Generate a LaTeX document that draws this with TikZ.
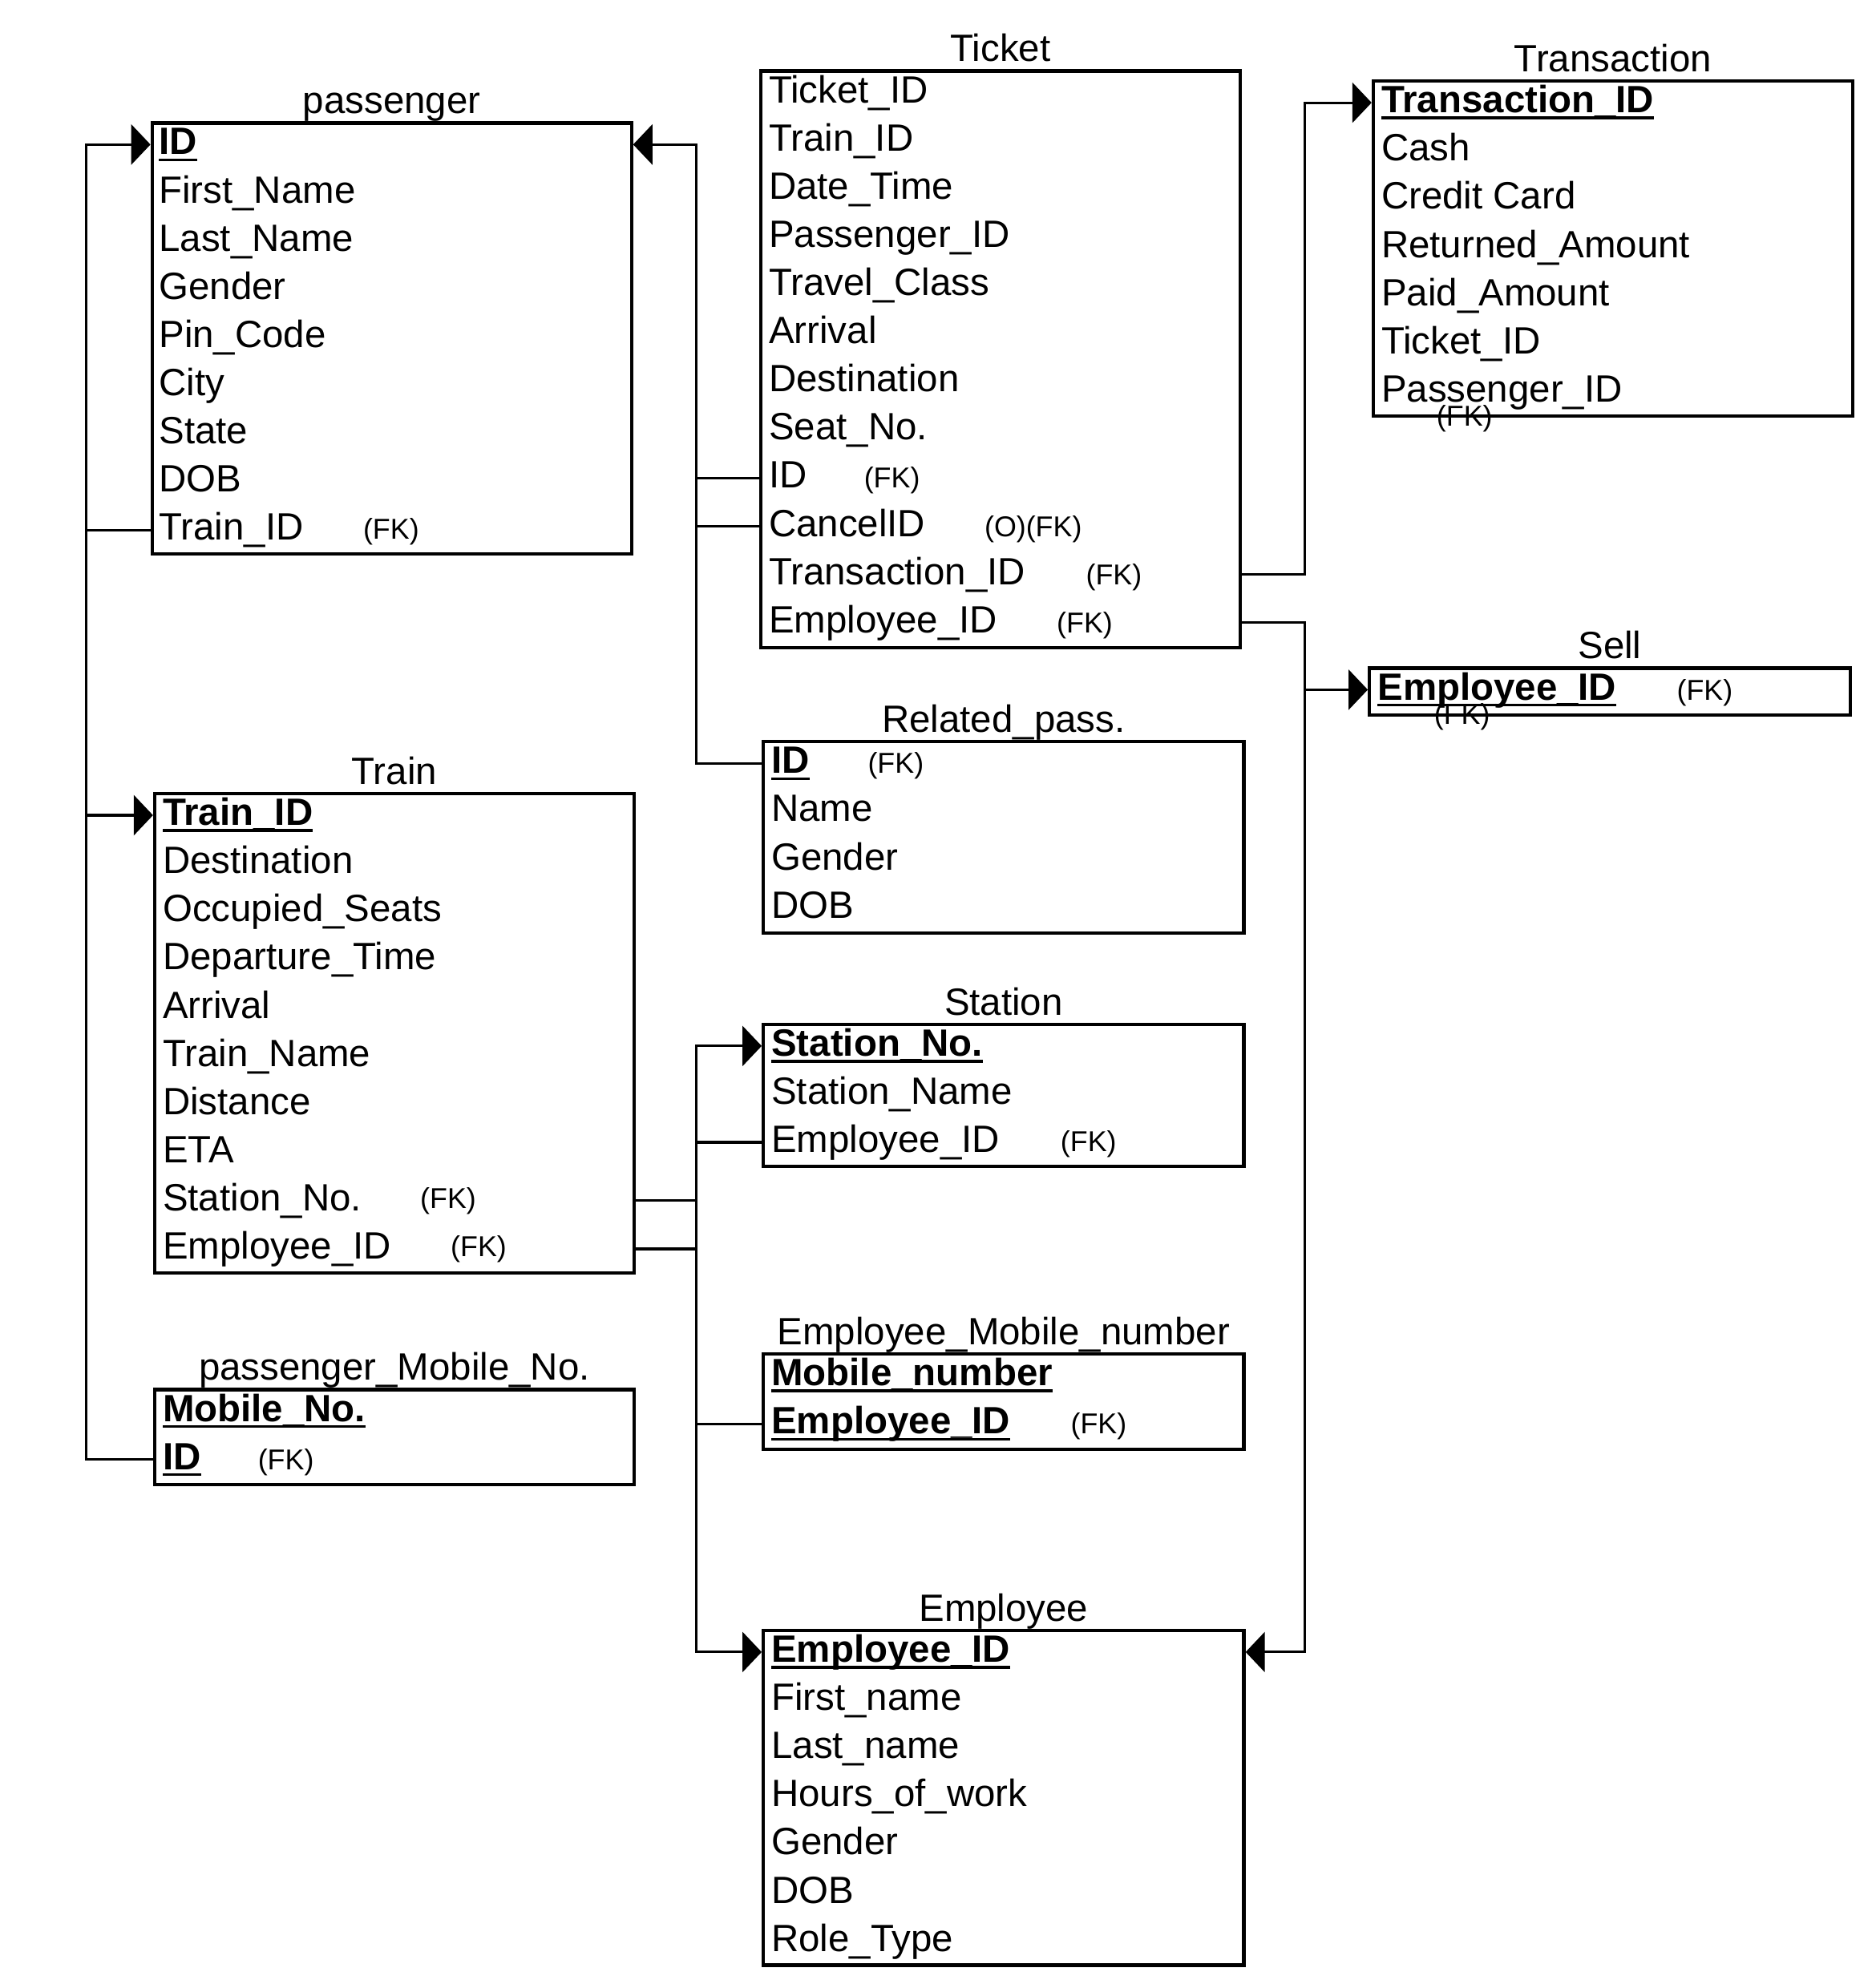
\documentclass[tikz,border=0pt]{standalone}
\usepackage{fontspec}
\setmainfont{Liberation Sans}
\usetikzlibrary{arrows.meta,positioning,fit}
\newcommand{\keyattr}[1]{\setbox0=\hbox{\bfseries #1}\rlap{\rule[-0.17em]{\wd0}{0.07em}}\box0}

\begin{document}
\begin{tikzpicture}[x=0.01582cm,y=-0.01582cm,
  font=\fontsize{13.5pt}{16pt}\selectfont,>={Triangle[length=0.24cm,width=0.5cm]},
  tbl/.style={draw,line width=1.2pt,inner sep=0pt},
  ttl/.style={inner sep=0pt,text height=0.72em,text depth=0pt},
  attr/.style={anchor=west,inner sep=0pt,text height=0.72em,text depth=0pt},
  fk/.style={anchor=west,inner sep=0pt,text height=0.72em,text depth=0pt,font=\fontsize{10.2pt}{12pt}\selectfont},
  link/.style={line width=0.9pt}]
\useasboundingbox (0,0) rectangle (1479,1568);
% table frames
\node[tbl,fit={(120,97) (498,437)}] (pas) {};
\node[tbl,fit={(600,56) (978,511)}] (tkt) {};
\node[tbl,fit={(1083,64) (1461,328)}] (trn) {};
\node[tbl,fit={(1080,527) (1459,564)}] (sell) {};
\node[tbl,fit={(602,585) (981,736)}] (rel) {};
\node[tbl,fit={(122,626) (500,1004)}] (train) {};
\node[tbl,fit={(122,1096) (500,1171)}] (pmob) {};
\node[tbl,fit={(602,808) (981,920)}] (stn) {};
\node[tbl,fit={(602,1068) (981,1143)}] (emob) {};
\node[tbl,fit={(602,1286) (981,1550)}] (emp) {};
% titles
\node[ttl,above=0.09cm of pas] (pas-t) {passenger};
\node[ttl,above=0.09cm of tkt] (tkt-t) {Ticket};
\node[ttl,above=0.09cm of trn] (trn-t) {Transaction};
\node[ttl,above=0.09cm of sell] (sell-t) {Sell};
\node[ttl,above=0.09cm of rel] (rel-t) {Related\_pass.};
\node[ttl,above=0.09cm of train] (train-t) {Train};
\node[ttl,above=0.09cm of pmob] (pmob-t) {passenger\_Mobile\_No.};
\node[ttl,above=0.09cm of stn] (stn-t) {Station};
\node[ttl,above=0.09cm of emob] (emob-t) {Employee\_Mobile\_number};
\node[ttl,above=0.09cm of emp] (emp-t) {Employee};
% attributes
\foreach \a [count=\i] in {\keyattr{ID},First\_Name,Last\_Name,Gender,Pin\_Code,City,State,DOB,Train\_ID}
  \node[attr] (pas-\i) at (125,{114+38*(\i-1)}) {\a};
\foreach \a [count=\i] in {Ticket\_ID,Train\_ID,Date\_Time,Passenger\_ID,Travel\_Class,Arrival,Destination,Seat\_No.,ID,CancelID,Transaction\_ID,Employee\_ID}
  \node[attr] (tkt-\i) at (606,{73+38*(\i-1)}) {\a};
\foreach \a [count=\i] in {\keyattr{Transaction\_ID},Cash,Credit Card,Returned\_Amount,Paid\_Amount,Ticket\_ID,Passenger\_ID}
  \node[attr] (trn-\i) at (1089,{81+38*(\i-1)}) {\a};
\node[attr] (sell-1) at (1086,544) {\keyattr{Employee\_ID}};
\foreach \a [count=\i] in {\keyattr{ID},Name,Gender,DOB}
  \node[attr] (rel-\i) at (608,{602+38*(\i-1)}) {\a};
\foreach \a [count=\i] in {\keyattr{Train\_ID},Destination,Occupied\_Seats,Departure\_Time,Arrival,Train\_Name,Distance,ETA,Station\_No.,Employee\_ID}
  \node[attr] (train-\i) at (128,{643+38*(\i-1)}) {\a};
\foreach \a [count=\i] in {\keyattr{Mobile\_No.},\keyattr{ID}}
  \node[attr] (pmob-\i) at (128,{1113+38*(\i-1)}) {\a};
\foreach \a [count=\i] in {\keyattr{Station\_No.},Station\_Name,Employee\_ID}
  \node[attr] (stn-\i) at (608,{825+38*(\i-1)}) {\a};
\foreach \a [count=\i] in {\keyattr{Mobile\_number},\keyattr{Employee\_ID}}
  \node[attr] (emob-\i) at (608,{1085+38*(\i-1)}) {\a};
\foreach \a [count=\i] in {\keyattr{Employee\_ID},First\_name,Last\_name,Hours\_of\_work,Gender,DOB,Role\_Type}
  \node[attr] (emp-\i) at (608,{1303+38*(\i-1)}) {\a};
% key markers
\node[fk] (pas-fk) at (286,417) {(FK)};
\node[fk] (tkt-fk1) at (681,377) {(FK)};
\node[fk] (tkt-fk2) at (776,415) {(O)(FK)};
\node[fk] (tkt-fk3) at (856,453) {(FK)};
\node[fk] (tkt-fk4) at (833,491) {(FK)};
\node[fk,anchor=center] (trn-fk) at (1155,328) {(FK)};
\node[fk] (sell-fk1) at (1322,544) {(FK)};
\node[fk,anchor=center] (sell-fk2) at (1153,563) {(FK)};
\node[fk] (rel-fk) at (684,602) {(FK)};
\node[fk] (train-fk1) at (331,945) {(FK)};
\node[fk] (train-fk2) at (355,983) {(FK)};
\node[fk] (pmob-fk) at (203,1151) {(FK)};
\node[fk] (stn-fk) at (836,900) {(FK)};
\node[fk] (emob-fk) at (844,1123) {(FK)};
% buses
\coordinate (lbus) at (68,0);
\coordinate (mbus) at (549,0);
\coordinate (rbus) at (1029,0);
% references
\draw[link,->] (pas.west |- pas-9) -- (lbus |- pas-9) -- (lbus |- train-1) -- (train.west |- train-1);
\draw[link,->] (pmob.west |- pmob-2) -- (lbus |- pmob-2) -- (lbus |- pas-1) -- (pas.west |- pas-1);
\draw[link,->] (tkt.west |- tkt-10) -- (mbus |- tkt-10) -- (mbus |- pas-1) -- (pas.east |- pas-1);
\draw[link] (tkt.west |- tkt-9) -- (mbus |- tkt-9) -- (mbus |- rel-1) -- (rel.west |- rel-1);
\draw[link,->] (tkt.east |- tkt-11) -- (rbus |- tkt-11) -- (rbus |- trn-1) -- (trn.west |- trn-1);
\draw[link,->] (tkt.east |- tkt-12) -- (rbus |- tkt-12) -- (rbus |- emp-1) -- (emp.east |- emp-1);
\draw[link,->] (rbus |- sell-1) -- (sell.west |- sell-1);
\draw[link,->] (train.east |- train-10) -- (mbus |- train-10) -- (mbus |- stn-1) -- (stn.west |- stn-1);
\draw[link,->] (train.east |- train-9) -- (mbus |- train-9) -- (mbus |- emp-1) -- (emp.west |- emp-1);
\draw[link] (stn.west |- stn-3) -- (mbus |- stn-3);
\draw[link] (emob.west |- emob-2) -- (mbus |- emob-2);
\end{tikzpicture}
\end{document}
